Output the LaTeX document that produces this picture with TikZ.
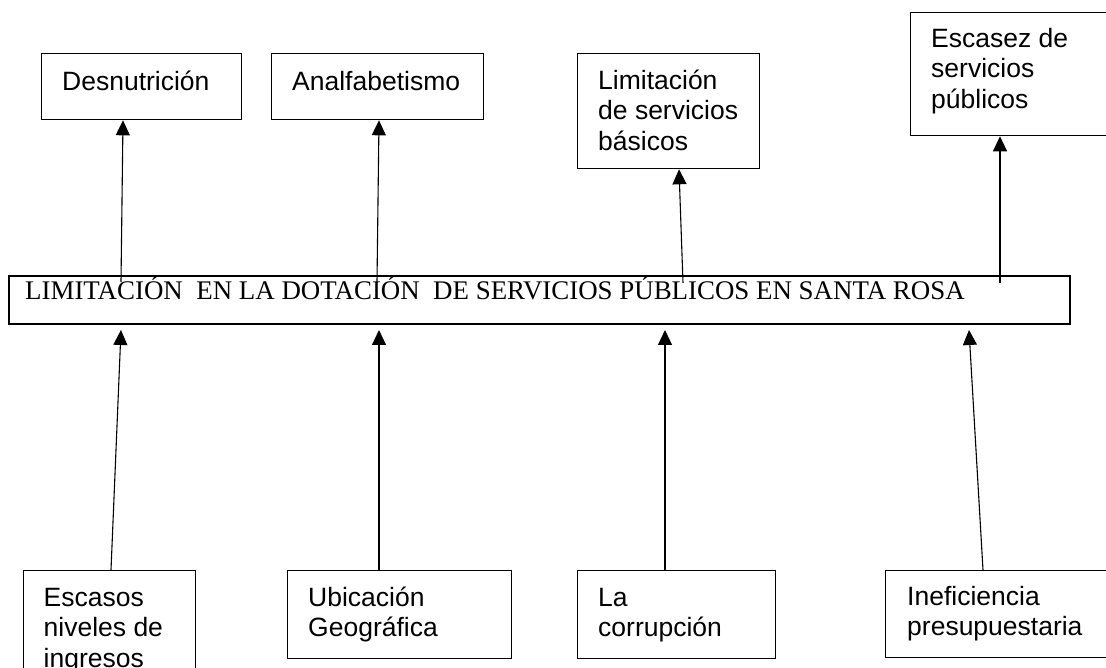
\documentclass[tikz,border=0pt]{standalone}
\usepackage{fontspec}
\setmainfont{Liberation Serif}
\newfontfamily\arialf{Liberation Sans}
\usetikzlibrary{arrows.meta,calc}
\newcommand{\fl}{\rule{0pt}{22pt}}
\begin{document}
\begin{tikzpicture}[x=1pt,y=-1pt,
  box/.style={draw,line width=1.3pt,inner sep=0pt,anchor=north west},
  mainbox/.style={draw,line width=2pt,inner sep=0pt,anchor=north west},
  lbl/.style={anchor=north west,inner sep=0pt,align=left,font=\arialf\fontsize{26.5}{30.5}\selectfont},
  arr/.style={line width=1.1pt,-{Triangle[width=14pt,length=15pt]}}]
\useasboundingbox[fill=white] (0,0) rectangle (1106,668);
% effect boxes
\node[box,minimum width=200pt,minimum height=66pt] (d) at (41,53) {};
\node[lbl] (dt) at ($(d.north west)+(21,15)$) {\fl Desnutrición};
\node[box,minimum width=212pt,minimum height=66pt] (a) at (271,53) {};
\node[lbl] (at) at ($(a.north west)+(21,15)$) {\fl Analfabetismo};
\node[box,minimum width=182pt,minimum height=115pt] (l) at (577,53) {};
\node[lbl] (lt) at ($(l.north west)+(21,14)$) {\fl Limitación\\de servicios\\básicos};
\node[box,minimum width=230pt,minimum height=123pt] (e) at (910,12) {};
\node[lbl] (et) at ($(e.north west)+(21,13)$) {\fl Escasez de\\servicios\\públicos};
% central problem
\node[mainbox,minimum width=1061pt,minimum height=48pt] (main) at (8,275) {};
\node[anchor=base west,inner sep=0pt,font=\fontsize{26.9}{30}\selectfont] (mt) at ($(main.north west)+(17,25)$)
  {LIMITACIÓN\ \ EN LA DOTACIÓN\ \ DE SERVICIOS PÚBLICOS EN SANTA ROSA};
% cause boxes
\node[box,minimum width=172.5pt,minimum height=130pt] (s) at (22.5,570) {};
\node[lbl] (st) at ($(s.north west)+(21,14)$) {\fl Escasos\\niveles de\\ingresos};
\node[box,minimum width=224pt,minimum height=88pt] (u) at (287,570) {};
\node[lbl] (ut) at ($(u.north west)+(21,14)$) {\fl Ubicación\\Geográfica};
\node[box,minimum width=198pt,minimum height=88pt] (c) at (577,570) {};
\node[lbl] (ct) at ($(c.north west)+(21,14)$) {\fl La\\corrupción};
\node[box,minimum width=240pt,minimum height=87pt] (i) at (885,570) {};
\node[lbl] (it) at ($(i.north west)+(22,13)$) {\fl Ineficiencia\\presupuestaria};
% effects arrows
\draw[arr] ($(main.north west)+(113,7)$) -- ($(d.south west)+(82,0)$);
\draw[arr] ($(main.north west)+(369,7)$) -- ($(a.south west)+(108,0)$);
\draw[arr] ($(main.north west)+(675,8)$) -- ($(l.south west)+(102,0)$);
\draw[arr] ($(main.north west)+(992,8)$) -- ($(e.south west)+(90,0)$);
% cause arrows
\draw[arr] ($(s.north west)+(88.5,0)$) -- ($(main.south west)+(113,5)$);
\draw[arr] ($(u.north west)+(92,0)$) -- ($(main.south west)+(371,5)$);
\draw[arr] ($(c.north west)+(88,0)$) -- ($(main.south west)+(657,5)$);
\draw[arr] ($(i.north west)+(98,0)$) -- ($(main.south west)+(961,5)$);
\end{tikzpicture}
\end{document}
